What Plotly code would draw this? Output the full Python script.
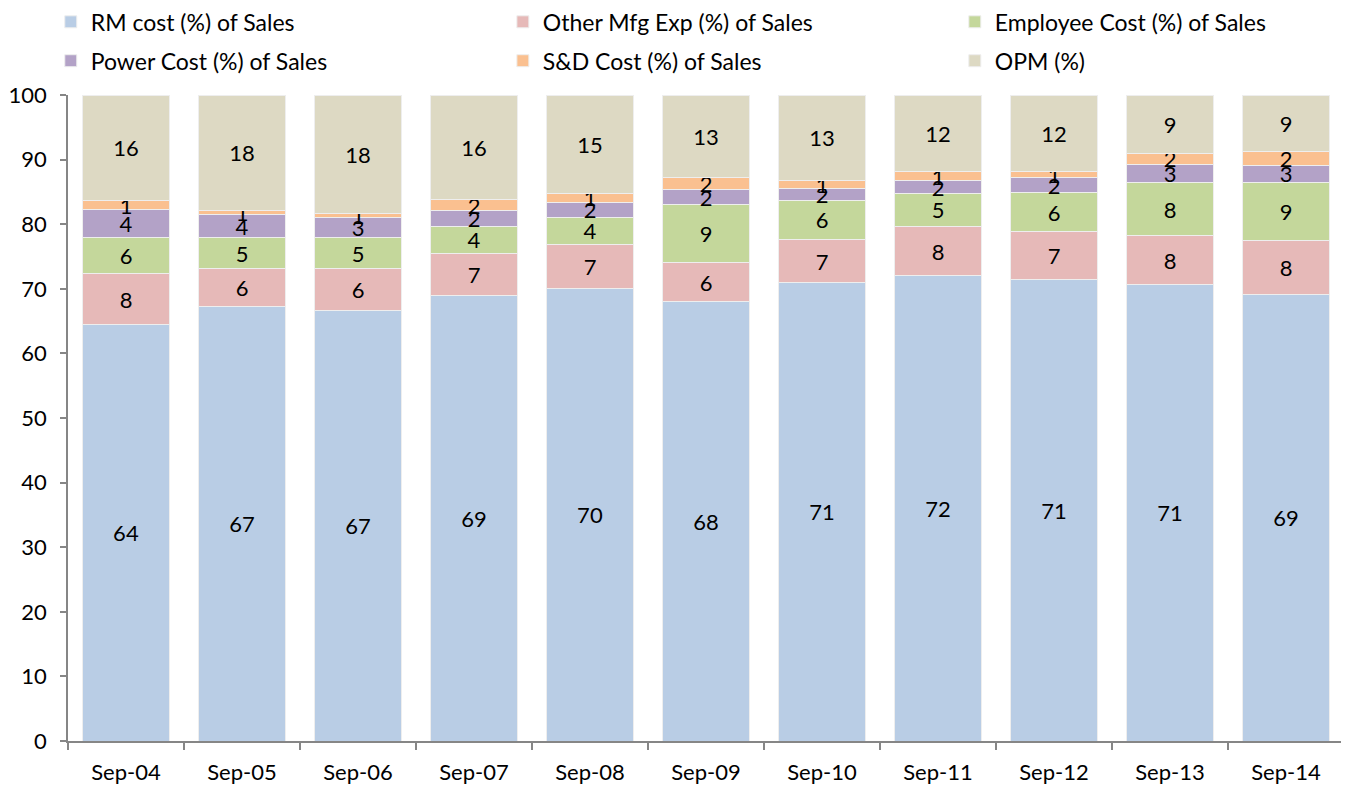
import plotly.graph_objects as go

categories = ["Sep-04", "Sep-05", "Sep-06", "Sep-07", "Sep-08", "Sep-09",
              "Sep-10", "Sep-11", "Sep-12", "Sep-13", "Sep-14"]

rm_cost = [64.4, 67.2, 66.7, 68.9, 70.0, 68.0, 70.9, 72.0, 71.4, 70.7, 69.1]
other_mfg = [7.9, 5.9, 6.4, 6.6, 6.9, 6.0, 6.8, 7.6, 7.4, 7.5, 8.4]
employee = [5.6, 4.8, 4.8, 4.2, 4.2, 9.0, 6.0, 5.2, 6.1, 8.3, 9.0]
power = [4.3, 3.6, 3.2, 2.4, 2.3, 2.3, 1.9, 1.9, 2.3, 2.7, 2.6]
sd_cost = [1.4, 0.6, 0.6, 1.7, 1.4, 2.0, 1.1, 1.4, 0.9, 1.8, 2.1]
opm = [16.4, 17.9, 18.3, 16.2, 15.2, 12.7, 13.3, 11.9, 11.9, 9.0, 8.8]

series = [
    ("RM cost (%) of Sales", rm_cost, "#B9CDE5", "legend"),
    ("Other Mfg Exp (%) of Sales", other_mfg, "#E6B9B8", "legend2"),
    ("Employee Cost (%) of Sales", employee, "#C4D79B", "legend3"),
    ("Power Cost (%) of Sales", power, "#B3A2C7", "legend"),
    ("S&D Cost (%) of Sales", sd_cost, "#FAC090", "legend2"),
    ("OPM (%)", opm, "#DDD9C3", "legend3"),
]

FONT = "Lato, 'Open Sans', sans-serif"

fig = go.Figure()
for i, (name, vals, color, leg) in enumerate(series):
    fig.add_trace(go.Bar(
        x=categories, y=vals, name=name, legend=leg, legendgroup=f"g{i}",
        marker=dict(color=color, line=dict(color="#EEEEEE", width=1)),
        texttemplate="%{y:.0f}", textposition="inside", textangle=0,
        insidetextanchor="middle",
        textfont=dict(family=FONT, size=22, color="black"),
        hoverinfo="name+y",
    ))

leg_common = dict(orientation="v", yanchor="top", y=1.1465, xanchor="left",
                  font=dict(family=FONT, size=23, color="black"),
                  itemwidth=30, tracegroupgap=6, bgcolor="rgba(0,0,0,0)")

fig.update_layout(
    barmode="stack",
    bargap=0.25,
    width=1341, height=782,
    margin=dict(l=60, r=5, t=87, b=49, autoexpand=False),
    paper_bgcolor="white", plot_bgcolor="white",
    font=dict(family=FONT, size=22, color="black"),
    uniformtext=dict(minsize=22, mode="show"),
    showlegend=True,
    legend=dict(x=-0.0135, **leg_common),
    legend2=dict(x=0.3408, **leg_common),
    legend3=dict(x=0.695, **leg_common),
    xaxis=dict(showline=True, linecolor="#868686", linewidth=1.5,
               ticks="outside", tickson="boundaries", ticklen=7,
               tickcolor="#868686", tickwidth=1.5, ticklabelstandoff=11,
               tickfont=dict(family=FONT, size=22), showgrid=False),
    yaxis=dict(range=[0, 100], dtick=10, showline=True, linecolor="#868686",
               linewidth=1.5, ticks="outside", ticklen=6, tickcolor="#868686",
               tickwidth=1.5, ticklabelstandoff=9,
               tickfont=dict(family=FONT, size=22),
               showgrid=False, zeroline=False),
)

fig.write_html("out.html")
